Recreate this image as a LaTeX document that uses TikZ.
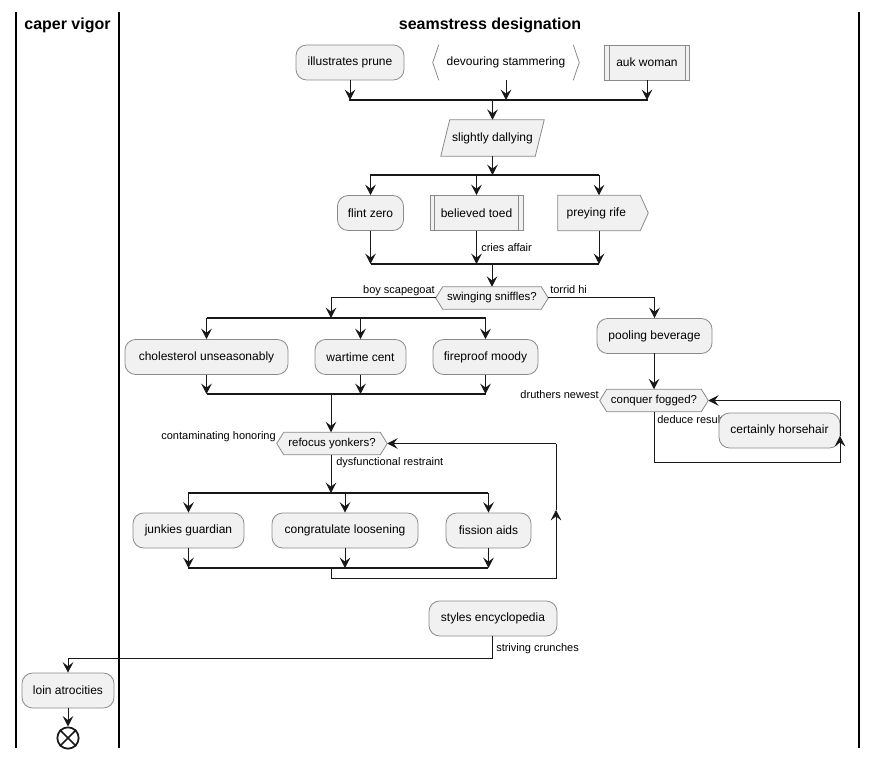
\documentclass[tikz,border=0pt]{standalone}
\usepackage{fontspec}
\setmainfont{Liberation Sans}
\usetikzlibrary{arrows.meta,calc}
\definecolor{nodefill}{HTML}{F1F1F1}
\definecolor{ln}{HTML}{181818}
\definecolor{bd}{HTML}{8A8A8A}
\pgfdeclarelayer{background}
\pgfsetlayers{background,main}
\begin{document}
\begin{tikzpicture}[x=0.75pt,y=-0.75pt,
  >={Stealth[length=7.8pt,width=8pt,inset=3pt]},
  txt/.style={font=\fontsize{9}{11}\selectfont},
  act/.style={txt,draw=bd,fill=nodefill,rounded corners=8pt,minimum height=26.25pt,line width=0.6pt,inner sep=0pt},
  sub/.style={txt,draw=bd,fill=nodefill,minimum height=26.25pt,line width=0.6pt,inner sep=0pt},
  plain/.style={txt,minimum height=26.25pt,inner sep=0pt},
  dec/.style={font=\fontsize{8.6}{10}\selectfont,minimum height=16.5pt,inner sep=0pt},
  shp/.style={draw=bd,fill=nodefill,line width=0.6pt},
  wd/.style={minimum width=#1*0.75pt},
  lbl/.style={font=\fontsize{8.25}{10}\selectfont,inner sep=0pt},
  flow/.style={draw=ln,line width=0.75pt,->},
  ln1/.style={draw=ln,line width=0.75pt},
  bar/.style={draw=ln,line width=1.7pt},
  lane/.style={draw=black,line width=1.3pt},
  ttl/.style={font=\fontsize{12}{14}\selectfont\bfseries}
]
\useasboundingbox (0,0) rectangle (878,759);

% swimlanes
\draw[lane] (16,12) -- (16,748);
\draw[lane] (119,12) -- (119,748);
\draw[lane] (859,12) -- (859,748);
\node[ttl] (t1) at (67.5,25) {caper vigor};
\node[ttl] (t2) at (490,25) {seamstress designation};

% row 1
\node[act,wd=108] (ip) at (350,62.5) {illustrates prune};
\node[plain,wd=134] (ds) at (506,62.5) {devouring stammering};
\node[sub,wd=85] (aw) at (647,62.5) {auk woman};
\draw[bd,line width=0.6pt] ($(aw.north west)+(5,0)$) -- ($(aw.south west)+(5,0)$);
\draw[bd,line width=0.6pt] ($(aw.north east)+(-5,0)$) -- ($(aw.south east)+(-5,0)$);
\draw[bd,line width=0.6pt] (ds.north west) -- ($(ds.west)+(-6,0)$) -- (ds.south west);
\draw[bd,line width=0.6pt] (ds.north east) -- ($(ds.east)+(6,0)$) -- (ds.south east);

\coordinate (b1L) at (349,100);
\coordinate (b1R) at (648,100);
\draw[flow] (ip.south) -- (ip.south |- b1L);
\draw[flow] (ds.south) -- (ds.south |- b1L);
\draw[flow] (aw.south) -- (aw.south |- b1L);
\draw[bar] (b1L) -- (b1R);

% slightly dallying
\node[plain,wd=94,minimum height=27pt] (sd) at (492.5,138) {slightly dallying};
\begin{pgfonlayer}{background}
\draw[shp] ($(sd.north west)+(4.5,0)$) -- ($(sd.north east)+(4.5,0)$) -- ($(sd.south east)+(-4.5,0)$) -- ($(sd.south west)+(-4.5,0)$) -- cycle;
\end{pgfonlayer}
\draw[flow] (sd.north |- b1L) -- (sd.north);

\coordinate (b2L) at (370,175);
\coordinate (b2R) at (599,175);
\draw[flow] (sd.south) -- (sd.south |- b2L);
\draw[bar] (b2L) -- (b2R);

% row 3
\node[act,wd=66] (fz) at (370.5,213) {flint zero};
\node[sub,wd=93] (bt) at (476.5,213) {believed toed};
\draw[bd,line width=0.6pt] ($(bt.north west)+(5,0)$) -- ($(bt.south west)+(5,0)$);
\draw[bd,line width=0.6pt] ($(bt.north east)+(-5,0)$) -- ($(bt.south east)+(-5,0)$);
\node[plain,wd=82] (pr) at (599,213) {\hspace*{-4pt}preying rife};
\begin{pgfonlayer}{background}
\draw[shp] (pr.north west) -- (pr.north east) -- ($(pr.east)+(8,0)$) -- (pr.south east) -- (pr.south west) -- cycle;
\end{pgfonlayer}
\draw[flow] (fz.north |- b2L) -- (fz.north);
\draw[flow] (bt.north |- b2L) -- (bt.north);
\draw[flow] (pr.north |- b2L) -- (pr.north);

\coordinate (b3L) at (371,264);
\coordinate (b3R) at (599,264);
\draw[flow] (fz.south) -- (fz.south |- b3L);
\draw[flow] (bt.south) -- (bt.south |- b3L);
\draw[flow] (pr.south) -- (pr.south |- b3L);
\draw[bar] (b3L) -- (b3R);
\node[lbl,anchor=west] (l1) at (481,248) {cries affair};

% swinging sniffles
\node[dec,wd=112] (ss) at (492,298) {swinging sniffles?};
\begin{pgfonlayer}{background}
\draw[shp] (ss.west) -- ($(ss.north west)+(7,0)$) -- ($(ss.north east)+(-7,0)$) -- (ss.east) -- ($(ss.south east)+(-7,0)$) -- ($(ss.south west)+(7,0)$) -- cycle;
\end{pgfonlayer}
\draw[flow] (ss.north |- b3L) -- (ss.north);
\node[lbl,anchor=east] (l2) at (435,290.5) {boy scapegoat};
\node[lbl,anchor=west] (l3) at (550,290) {torrid hi};

% left branch
\coordinate (b4L) at (207,318);
\coordinate (b4R) at (486,318);
\coordinate (b4c) at (331,318);
\draw[flow] (ss.west) -| (b4c);
\draw[bar] (b4L) -- (b4R);
\node[act,wd=163] (cu) at (206.5,357) {cholesterol unseasonably};
\node[act,wd=91] (wc) at (360.5,357) {wartime cent};
\node[act,wd=105] (fm) at (485.5,357) {fireproof moody};
\draw[flow] (cu.north |- b4L) -- (cu.north);
\draw[flow] (wc.north |- b4L) -- (wc.north);
\draw[flow] (fm.north |- b4L) -- (fm.north);
\coordinate (b5L) at (207,394);
\coordinate (b5R) at (486,394);
\coordinate (b5c) at (331,394);
\draw[flow] (cu.south) -- (cu.south |- b5L);
\draw[flow] (wc.south) -- (wc.south |- b5L);
\draw[flow] (fm.south) -- (fm.south |- b5L);
\draw[bar] (b5L) -- (b5R);

% refocus yonkers
\node[dec,wd=110] (ry) at (332,443.5) {refocus yonkers?};
\begin{pgfonlayer}{background}
\draw[shp] (ry.west) -- ($(ry.north west)+(7,0)$) -- ($(ry.north east)+(-7,0)$) -- (ry.east) -- ($(ry.south east)+(-7,0)$) -- ($(ry.south west)+(7,0)$) -- cycle;
\end{pgfonlayer}
\draw[flow] (b5c) -- (b5c |- ry.north);
\node[lbl,anchor=east] (l4) at (276,437) {contaminating honoring};
\node[lbl,anchor=west] (l5) at (336,463) {dysfunctional restraint};

\coordinate (b6L) at (188,493);
\coordinate (b6R) at (488,493);
\coordinate (b6c) at (331,493);
\draw[flow] (b6c |- ry.south) -- (b6c);
\draw[bar] (b6L) -- (b6R);
\node[act,wd=111] (jg) at (188.5,530.5) {junkies guardian};
\node[act,wd=146] (cl) at (345,530.5) {congratulate loosening};
\node[act,wd=85] (fa) at (488.5,530.5) {fission aids};
\draw[flow] (jg.north |- b6L) -- (jg.north);
\draw[flow] (cl.north |- b6L) -- (cl.north);
\draw[flow] (fa.north |- b6L) -- (fa.north);
\coordinate (b7L) at (188,568);
\coordinate (b7R) at (488,568);
\coordinate (b7c) at (331,568);
\draw[flow] (jg.south) -- (jg.south |- b7L);
\draw[flow] (cl.south) -- (cl.south |- b7L);
\draw[flow] (fa.south) -- (fa.south |- b7L);
\draw[bar] (b7L) -- (b7R);

\coordinate (lp1) at (331,578);
\coordinate (lp2) at (556,578);
\coordinate (lp3) at (556,510);
\coordinate (lp4) at (556,443.5);
\draw[flow] (b7c) -- (lp1) -- (lp2) -- (lp3);
\draw[ln1] (lp3) -- (lp4);
\draw[flow] (lp4) -- (ry.east);

% right branch
\node[act,wd=115] (pb) at (654.5,336) {pooling beverage};
\draw[flow] (ss.east) -| (pb.north);
\node[dec,wd=108] (cf) at (654,400.5) {conquer fogged?};
\begin{pgfonlayer}{background}
\draw[shp] (cf.west) -- ($(cf.north west)+(7,0)$) -- ($(cf.north east)+(-7,0)$) -- (cf.east) -- ($(cf.south east)+(-7,0)$) -- ($(cf.south west)+(7,0)$) -- cycle;
\end{pgfonlayer}
\draw[flow] (pb.south) -- (pb.south -| cf.north) -- (cf.north);
\node[lbl,anchor=east] (l6) at (599,395) {druthers newest};
\node[lbl,anchor=west] (l7) at (657,420) {deduce result};
\node[act,wd=121] (ch) at (779.5,430.5) {certainly horsehair};
\coordinate (rp1) at (654,462);
\coordinate (rp2) at (840,462);
\coordinate (rp3) at (840,436);
\coordinate (rp4) at (840,400.5);
\draw[flow] (cf.south) -- (rp1) -- (rp2) -- (rp3);
\draw[ln1] (rp3) -- (rp4);
\draw[flow] (rp4) -- (cf.east);

% styles encyclopedia
\node[act,wd=128] (se) at (493,618.5) {styles encyclopedia};
\node[act,wd=92] (la) at (68,690.5) {loin atrocities};
\coordinate (sc1) at (492,658);
\coordinate (sc2) at (68,658);
\draw[flow] (se.south -| sc1) -- (sc1) -- (sc2) -- (la.north);
\node[lbl,anchor=west] (l8) at (496,648.5) {striving crunches};

% end
\node[circle,draw=ln,line width=1.3pt,minimum size=16pt,inner sep=0pt] (endc) at (68,738) {};
\draw[ln,line width=1.3pt] (endc.north west) -- (endc.south east);
\draw[ln,line width=1.3pt] (endc.north east) -- (endc.south west);
\draw[flow] (la.south) -- (endc.north);
\end{tikzpicture}
\end{document}
